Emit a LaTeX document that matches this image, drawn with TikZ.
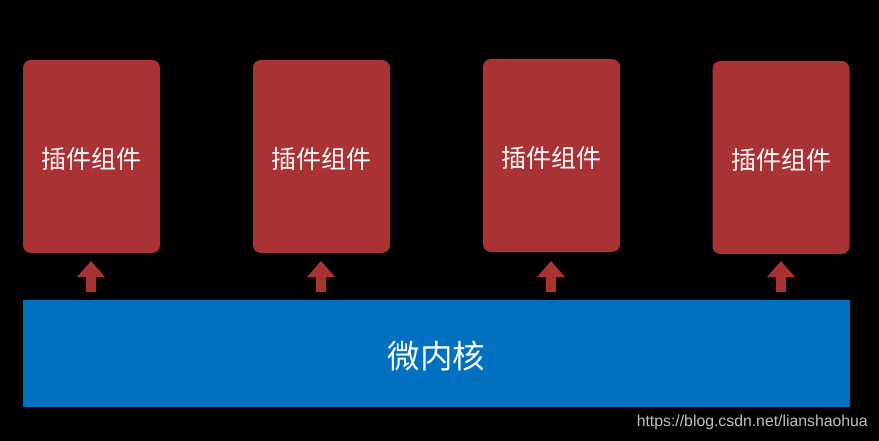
\documentclass[tikz,border=0pt]{standalone}
\usepackage{fontspec}
\setmainfont{Liberation Sans}
\newfontfamily\cjk{Noto Sans CJK SC}
\definecolor{plugred}{HTML}{A93234}
\definecolor{kernblue}{HTML}{0070C0}
\definecolor{wmgray}{HTML}{BFBFBF}
\newcommand{\lowtxt}[1]{\raisebox{-3pt}[\height][\depth]{#1}}
\begin{document}
\begin{tikzpicture}[x=1pt,y=-1pt,
  plugin/.style={fill=plugred,rounded corners=8pt,minimum width=137pt,minimum height=193pt,inner sep=0pt,text=white,font=\cjk\fontsize{25}{28}\selectfont},
  kernel/.style={fill=kernblue,minimum width=827pt,minimum height=107pt,inner sep=0pt,text=white,font=\cjk\fontsize{32.5}{36}\selectfont},
  uparrow/.style={fill=plugred}]
\fill[black] (0,0) rectangle (879,441);
\useasboundingbox (0,0) rectangle (879,441);
\node[plugin] (p1) at (91.5,156.5) {\lowtxt{插件组件}};
\node[plugin] (p2) at (321.5,156.5) {\lowtxt{插件组件}};
\node[plugin] (p3) at (551.5,155.5) {\lowtxt{插件组件}};
\node[plugin] (p4) at (781,157.5) {\lowtxt{插件组件}};
\node[kernel] (k) at (436.5,353.5) {\lowtxt{微内核}};
\foreach \i/\x in {1/91,2/321,3/551,4/781}{
  \coordinate (a\i) at (\x,261);
  \fill[uparrow] (a\i) -- ++(14,16) -- ++(-9,0) -- ++(0,15) -- ++(-10,0) -- ++(0,-15) -- ++(-9,0) -- cycle;
}
\node[anchor=east,text=wmgray,font=\fontsize{15.8}{18}\selectfont,inner sep=0pt] (wm) at (868,422) {https://blog.csdn.net/lianshaohua};
\end{tikzpicture}
\end{document}
